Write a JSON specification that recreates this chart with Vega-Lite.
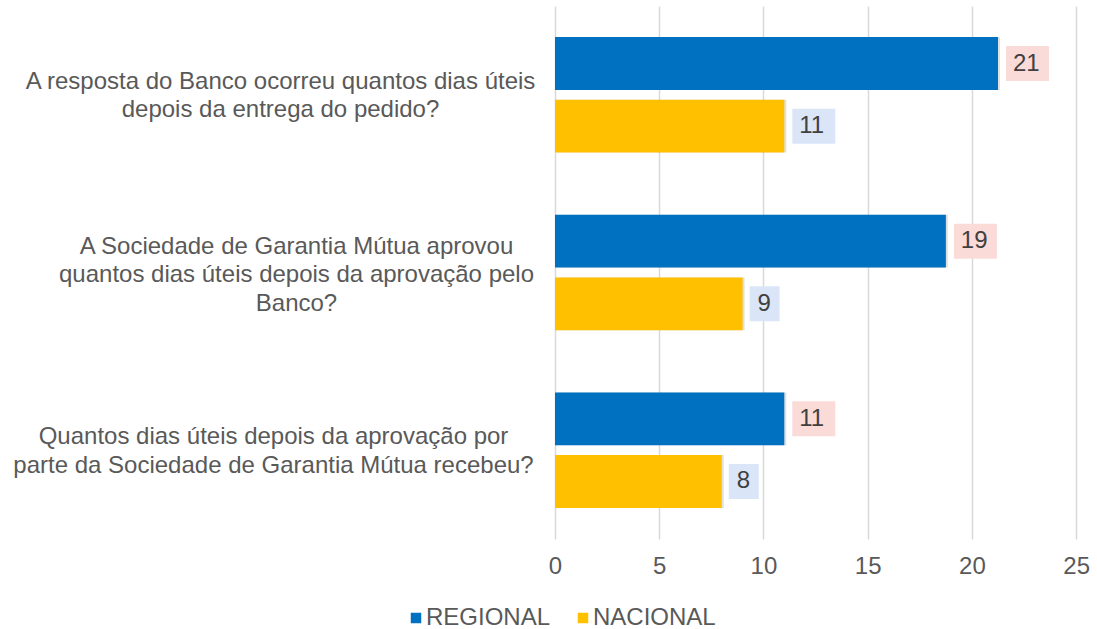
{
  "$schema": "https://vega.github.io/schema/vega-lite/v6.json",
  "width": 542,
  "height": 533,
  "autosize": {"type": "none"},
  "padding": {"left": 555, "top": 6, "right": 20, "bottom": 90},
  "background": "white",
  "config": {"view": {"stroke": null}, "font": "Liberation Sans"},
  "data": {
    "values": [
      {"question": "A resposta do Banco ocorreu quantos dias úteis|depois da entrega do pedido?", "series": "REGIONAL", "value": 21.25},
      {"question": "A resposta do Banco ocorreu quantos dias úteis|depois da entrega do pedido?", "series": "NACIONAL", "value": 11.0},
      {"question": "A Sociedade de Garantia Mútua aprovou|quantos dias úteis depois da aprovação pelo|Banco?", "series": "REGIONAL", "value": 18.75},
      {"question": "A Sociedade de Garantia Mútua aprovou|quantos dias úteis depois da aprovação pelo|Banco?", "series": "NACIONAL", "value": 9.0},
      {"question": "Quantos dias úteis depois da aprovação por|parte da Sociedade de Garantia Mútua recebeu?", "series": "REGIONAL", "value": 11.0},
      {"question": "Quantos dias úteis depois da aprovação por|parte da Sociedade de Garantia Mútua recebeu?", "series": "NACIONAL", "value": 8.0}
    ]
  },
  "encoding": {
    "y": {
      "field": "question",
      "type": "nominal",
      "sort": [
        "A resposta do Banco ocorreu quantos dias úteis|depois da entrega do pedido?",
        "A Sociedade de Garantia Mútua aprovou|quantos dias úteis depois da aprovação pelo|Banco?",
        "Quantos dias úteis depois da aprovação por|parte da Sociedade de Garantia Mútua recebeu?"
      ],
      "scale": {"paddingInner": 0.35, "paddingOuter": 0.175},
      "axis": {
        "title": null,
        "domain": false,
        "ticks": false,
        "tickSize": 0,
        "labelExpr": "split(datum.value, '|')",
        "labelAlign": "center",
        "labelBaseline": "middle",
        "labelPadding": {
          "condition": [
            {"test": "indexof(datum.value, 'resposta') >= 0", "value": 275},
            {"test": "indexof(datum.value, 'Banco?') >= 0", "value": 259}
          ],
          "value": 282
        },
        "labelOffset": {
          "condition": {"test": "indexof(datum.value, 'Banco?') >= 0", "value": -26},
          "value": -13
        },
        "labelFontSize": 24,
        "labelLineHeight": 28.5,
        "labelColor": "#595959",
        "labelLimit": 600
      }
    },
    "yOffset": {
      "field": "series",
      "type": "nominal",
      "sort": ["REGIONAL", "NACIONAL"],
      "scale": {"paddingInner": 0.156, "paddingOuter": 0}
    }
  },
  "layer": [
    {
      "mark": {"type": "bar", "xOffset": 2, "x2Offset": 2, "yOffset": 3, "fill": "#000000", "opacity": 0.12},
      "encoding": {
        "x": {"field": "value", "type": "quantitative"}
      }
    },
    {
      "mark": {"type": "bar"},
      "encoding": {
        "x": {
          "field": "value",
          "type": "quantitative",
          "scale": {"domain": [0, 25]},
          "axis": {
            "title": null,
            "values": [0, 5, 10, 15, 20, 25],
            "domain": false,
            "ticks": false,
            "grid": true,
            "gridColor": "#D9D9D9",
            "gridWidth": 1.5,
            "labelFlush": false,
            "labelFontSize": 24,
            "labelColor": "#595959",
            "labelPadding": 15
          }
        },
        "color": {
          "field": "series",
          "type": "nominal",
          "scale": {"domain": ["REGIONAL", "NACIONAL"], "range": ["#0070C0", "#FFC000"]},
          "legend": {
            "title": null,
            "orient": "none",
            "direction": "horizontal",
            "legendX": -151,
            "legendY": 600,
            "symbolType": "square",
            "symbolSize": 110,
            "symbolStrokeWidth": 0,
            "labelFontSize": 24,
            "labelColor": "#595959",
            "labelOffset": -2,
            "columnPadding": 20
          }
        }
      }
    },
    {
      "transform": [{"filter": "datum.value >= 9.5"}],
      "mark": {"type": "bar", "height": 35, "xOffset": 8, "x2Offset": 51},
      "encoding": {
        "x": {"field": "value", "type": "quantitative"},
        "x2": {"field": "value"},
        "fill": {"condition": {"test": "datum.series === 'REGIONAL'", "value": "#FADBD8"}, "value": "#DAE6F8"}
      }
    },
    {
      "transform": [{"filter": "datum.value < 9.5"}],
      "mark": {"type": "bar", "height": 35, "xOffset": 7, "x2Offset": 37},
      "encoding": {
        "x": {"field": "value", "type": "quantitative"},
        "x2": {"field": "value"},
        "fill": {"condition": {"test": "datum.series === 'REGIONAL'", "value": "#FADBD8"}, "value": "#DAE6F8"}
      }
    },
    {
      "mark": {"type": "text", "align": "left", "baseline": "middle", "dx": 15, "fontSize": 24, "color": "#404040"},
      "encoding": {
        "x": {"field": "value", "type": "quantitative"},
        "text": {"field": "value", "type": "quantitative", "format": ".0f"}
      }
    }
  ]
}
